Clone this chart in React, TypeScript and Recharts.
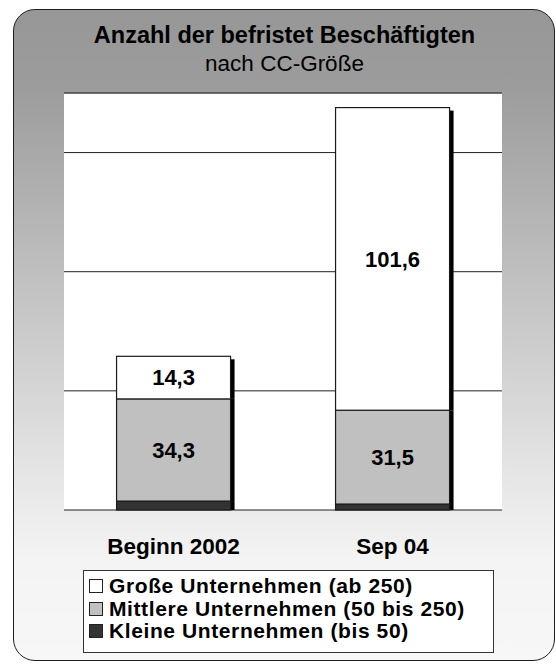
import { Bar, BarChart, CartesianGrid, LabelList, ReferenceLine, XAxis, YAxis } from "recharts";

const categories = ["Beginn 2002", "Sep 04"];
const kleine = [3.0, 2.0];
const mittlere = [34.3, 31.5];
const grosse = [14.3, 101.6];
const yTicks = [0, 40, 80, 120];
const yMax = 140;

const seriesNames = {
  grosse: "Große Unternehmen (ab 250)",
  mittlere: "Mittlere Unternehmen (50 bis 250)",
  kleine: "Kleine Unternehmen (bis 50)",
};
const seriesColors = { grosse: "#ffffff", mittlere: "#c0c0c0", kleine: "#333333" };

const data = categories.map((name, i) => ({
  name,
  pos: i,
  kleine: kleine[i],
  mittlere: mittlere[i],
  grosse: grosse[i],
}));

const font = "'Liberation Sans', Arial, sans-serif";

function ShadowBar(top: boolean) {
  return (props: any) => {
    const { x, y, width, height, fill } = props;
    if (!height) return <g />;
    const off = top ? 3 : 0;
    return (
      <g>
        <rect x={x + width} y={y + off} width={4} height={height - off} fill="#000" />
        <rect x={x} y={y} width={width} height={height} fill={fill} stroke="#1a1a1a" strokeWidth={1.2} />
      </g>
    );
  };
}

const legendRows = [
  { key: "grosse", label: seriesNames.grosse, color: seriesColors.grosse },
  { key: "mittlere", label: seriesNames.mittlere, color: seriesColors.mittlere },
  { key: "kleine", label: seriesNames.kleine, color: seriesColors.kleine },
];

const fmt = (v: any) => String(v).replace(".", ",");

export default function App() {
  return (
    <div style={{ position: "absolute", left: 0, top: 0, width: 556, height: 666, overflow: "hidden", fontFamily: font }}>
      <div
        style={{
          position: "absolute",
          left: 13,
          top: 9,
          width: 540,
          height: 650,
          border: "1.5px solid #1e1e1e",
          borderRadius: 22,
          background: "linear-gradient(to bottom, #979797 0%, #9c9c9c 12%, #e6e6e6 72%, #f4f4f4 85%, #f7f7f7 100%)",
        }}
      />
      <div style={{ position: "absolute", left: 13, width: 543, top: 22, lineHeight: "27px", textAlign: "center", fontSize: 23.5, fontWeight: "bold", color: "#000" }}>
        Anzahl der befristet Beschäftigten
      </div>
      <div style={{ position: "absolute", left: 13, width: 543, top: 50, lineHeight: "27px", textAlign: "center", fontSize: 22.5, color: "#000" }}>
        nach CC-Größe
      </div>
      <div style={{ position: "absolute", left: 0, top: 0 }}>
        <BarChart
          width={556}
          height={666}
          data={data}
          margin={{ top: 93, right: 54, left: 64, bottom: 106 }}
          barCategoryGap="24%"
        >
          <CartesianGrid vertical={false} stroke="#222" fill="#ffffff" />
          <XAxis xAxisId="edge" type="number" dataKey="pos" domain={[0, 2]} ticks={[0, 1, 2]} height={0} tick={() => <g />} tickLine={{ stroke: "#333" }} tickSize={8} axisLine={{ stroke: "#222" }} />
          <XAxis
            dataKey="name"
            height={50}
            axisLine={false}
            tickLine={false}
            tickSize={0}
            tickMargin={28}
            tick={{ fill: "#000", fontSize: 22.5, fontWeight: "bold", fontFamily: font }}
          />
          <YAxis domain={[0, yMax]} ticks={yTicks} width={0} tick={() => <g />} tickSize={5} tickLine={{ stroke: "#333" }} axisLine={{ stroke: "#111" }} />
          <YAxis yAxisId="r" orientation="right" domain={[0, yMax]} width={0} tick={false} tickLine={false} axisLine={{ stroke: "#555" }} />
          <ReferenceLine y={yMax} stroke="#555" />
          <Bar dataKey="kleine" stackId="a" fill={seriesColors.kleine} isAnimationActive={false} shape={ShadowBar(false)} />
          <Bar dataKey="mittlere" stackId="a" fill={seriesColors.mittlere} isAnimationActive={false} shape={ShadowBar(false)}>
            <LabelList
              dataKey="mittlere"
              position="center"
              formatter={fmt}
              style={{ fill: "#000", fontSize: 22, fontWeight: "bold", fontFamily: font }}
            />
          </Bar>
          <Bar dataKey="grosse" stackId="a" fill={seriesColors.grosse} isAnimationActive={false} shape={ShadowBar(true)}>
            <LabelList
              dataKey="grosse"
              position="center"
              formatter={fmt}
              style={{ fill: "#000", fontSize: 22, fontWeight: "bold", fontFamily: font }}
            />
          </Bar>
        </BarChart>
      </div>
      <div
        style={{
          position: "absolute",
          left: 83,
          top: 570,
          width: 411,
          height: 83,
          boxSizing: "border-box",
          background: "#fff",
          border: "1px solid #333",
          padding: "4px 0 0 5px",
        }}
      >
        {legendRows.map((r) => (
          <div key={r.key} style={{ display: "flex", alignItems: "center", height: 22.5, lineHeight: "22.5px", fontSize: 21, letterSpacing: 0.6, fontWeight: "bold", color: "#000", whiteSpace: "nowrap" }}>
            <span
              style={{
                display: "inline-block",
                width: 12,
                height: 12,
                background: r.color,
                border: "1px solid #222",
                marginRight: 6,
              }}
            />
            {r.label}
          </div>
        ))}
      </div>
    </div>
  );
}
